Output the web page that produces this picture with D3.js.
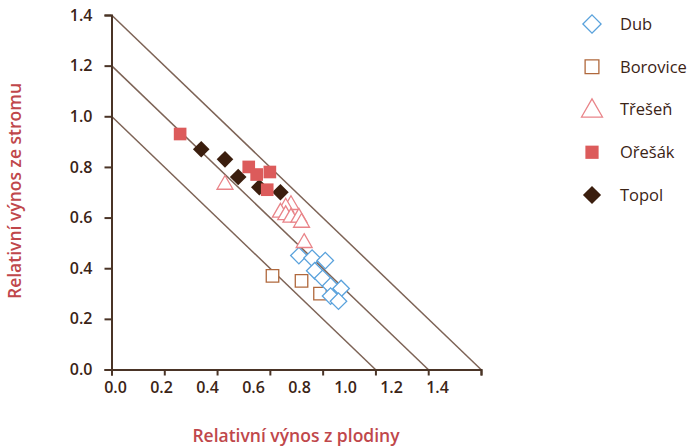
<!DOCTYPE html>
<html>
<head>
<meta charset="utf-8">
<script src="https://cdn.jsdelivr.net/npm/d3@7"></script>
<style>
  html, body { margin: 0; padding: 0; background: #fff; }
  svg { display: block; font-family: "Open Sans", "DejaVu Sans", sans-serif; }
</style>
</head>
<body>
<svg id="chart" width="693" height="446"></svg>
<script>
// Relative yields: crop (x) vs. tree (y)
const dubX = [0.71, 0.76, 0.81, 0.77, 0.80, 0.83, 0.87, 0.83, 0.86];
const dubY = [0.45, 0.44, 0.43, 0.39, 0.36, 0.33, 0.32, 0.29, 0.27];

const boroviceX = [0.61, 0.72, 0.79];
const boroviceY = [0.37, 0.35, 0.30];

const tresenX = [0.43, 0.68, 0.66, 0.64, 0.66, 0.68, 0.71, 0.72, 0.73];
const tresenY = [0.73, 0.65, 0.64, 0.62, 0.61, 0.60, 0.60, 0.58, 0.50];

const oresakX = [0.26, 0.52, 0.55, 0.60, 0.59];
const oresakY = [0.93, 0.80, 0.77, 0.78, 0.71];

const topolX = [0.34, 0.43, 0.48, 0.56, 0.64];
const topolY = [0.87, 0.83, 0.76, 0.72, 0.70];

// Land equivalent ratio reference lines (x + y = LER)
const lerLevels = [1.0, 1.2, 1.4];

const tickValues = [0, 0.2, 0.4, 0.6, 0.8, 1.0, 1.2, 1.4];
const seriesNames = ["Dub", "Borovice", "Třešeň", "Ořešák", "Topol"];

const xTitle = "Relativní výnos z plodiny";
const yTitle = "Relativní výnos ze stromu";

const svg = d3.select("#chart");

const x = d3.scaleLinear().domain([0, 1.4]).range([111.5, 481]);
const y = d3.scaleLinear().domain([0, 1.4]).range([369.5, 15]);
// the printed x labels sit on a narrower spacing than the tick marks
const xLabelScale = d3.scaleLinear().domain([0, 1.4]).range([115, 437]);

const axisColor = "#4a3426";
const textColor = "#3b2416";
const titleColor = "#c0474b";

// reference lines
svg.append("g")
  .selectAll("line")
  .data(lerLevels)
  .join("line")
  .attr("x1", x(0)).attr("y1", d => y(d))
  .attr("x2", d => x(d)).attr("y2", y(0))
  .attr("stroke", "#7d6356")
  .attr("stroke-width", 1.5);

// axes
const yAxis = svg.append("g")
  .attr("transform", `translate(${x(0)},0)`)
  .call(d3.axisLeft(y).tickValues(tickValues).tickFormat(d3.format(".1f")).tickSize(7).tickPadding(12));

const xAxis = svg.append("g")
  .attr("transform", `translate(0,${y(0)})`)
  .call(d3.axisBottom(x).tickValues(tickValues).tickFormat("").tickSize(6));

const xLabels = svg.append("g")
  .attr("transform", `translate(0,${y(0)})`)
  .call(d3.axisBottom(xLabelScale).tickValues(tickValues).tickFormat(d3.format(".1f")).tickSize(0).tickPadding(12));
xLabels.select(".domain").remove();

[yAxis, xAxis].forEach(g => {
  g.select(".domain").attr("stroke", axisColor).attr("stroke-width", 2);
  g.selectAll(".tick line").attr("stroke", axisColor).attr("stroke-width", 2);
});
[yAxis, xLabels].forEach(g => {
  g.selectAll(".tick text")
    .attr("fill", textColor)
    .attr("font-size", 16)
    .attr("font-weight", 600)
    .attr("font-family", "'Open Sans', sans-serif");
});

// axis titles
svg.append("text")
  .attr("x", 296).attr("y", 442)
  .attr("text-anchor", "middle")
  .attr("fill", titleColor)
  .attr("font-size", 17.5)
  .attr("font-weight", 600)
  .text(xTitle);

svg.append("text")
  .attr("transform", "translate(21,191) rotate(-90)")
  .attr("text-anchor", "middle")
  .attr("fill", titleColor)
  .attr("font-size", 17.5)
  .attr("font-weight", 600)
  .text(yTitle);

// marker styles
const styles = {
  "Dub":      { type: d3.symbolSquare,   size: 136, rotate: 45, fill: "#fff", stroke: "#5aa2dc", sw: 1.3 },
  "Borovice": { type: d3.symbolSquare,   size: 156, rotate: 0,  fill: "#fff", stroke: "#b0683c", sw: 1.3 },
  "Třešeň":   { type: d3.symbolTriangle, size: 110, rotate: 0,  fill: "#fff", stroke: "#e98489", sw: 1.3 },
  "Ořešák":   { type: d3.symbolSquare,   size: 160, rotate: 0,  fill: "#dc5b5b", stroke: "none", sw: 0 },
  "Topol":    { type: d3.symbolSquare,   size: 138, rotate: 45, fill: "#3b1e0e", stroke: "none", sw: 0 }
};

const seriesData = {
  "Dub": d3.zip(dubX, dubY),
  "Borovice": d3.zip(boroviceX, boroviceY),
  "Třešeň": d3.zip(tresenX, tresenY),
  "Ořešák": d3.zip(oresakX, oresakY),
  "Topol": d3.zip(topolX, topolY)
};

// drawing order of the point layers
const drawOrder = ["Borovice", "Dub", "Třešeň", "Topol", "Ořešák"];
drawOrder.forEach(name => {
  const s = styles[name];
  svg.append("g")
    .selectAll("path")
    .data(seriesData[name])
    .join("path")
    .attr("d", d3.symbol().type(s.type).size(s.size))
    .attr("transform", d => `translate(${x(d[0])},${y(d[1])}) rotate(${s.rotate})`)
    .attr("fill", s.fill)
    .attr("stroke", s.stroke)
    .attr("stroke-width", s.sw);
});

// legend
const legendScale = d3.scalePoint().domain(seriesNames).range([24, 195]);
const legendSizes = { "Dub": 165, "Borovice": 190, "Třešeň": 190, "Ořešák": 175, "Topol": 165 };
const legend = svg.append("g");
seriesNames.forEach(name => {
  const s = styles[name];
  const row = legend.append("g").attr("transform", `translate(0,${legendScale(name)})`);
  row.append("path")
    .attr("d", d3.symbol().type(s.type).size(legendSizes[name]))
    .attr("transform", `translate(592,${name === "Třešeň" ? 1.5 : 0}) rotate(${s.rotate})`)
    .attr("fill", s.fill)
    .attr("stroke", s.stroke)
    .attr("stroke-width", s.sw);
  row.append("text")
    .attr("x", 620).attr("y", 0)
    .attr("dy", "0.35em")
    .attr("fill", textColor)
    .attr("font-size", 16.5)
    .attr("font-weight", 500)
    .text(name);
});
</script>
</body>
</html>
